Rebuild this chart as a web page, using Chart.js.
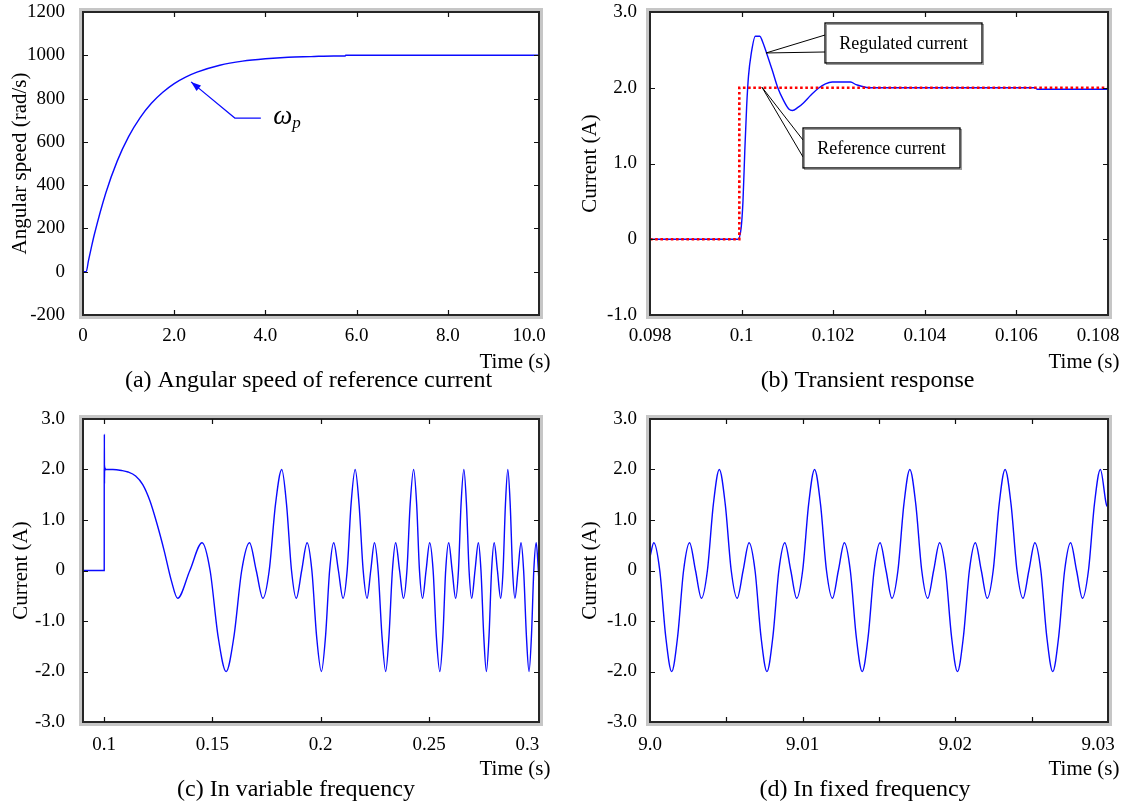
<!DOCTYPE html>
<html><head><meta charset="utf-8">
<script src="https://cdn.jsdelivr.net/npm/chart.js@4.4.0/dist/chart.umd.min.js"></script>
<style>
html,body{margin:0;padding:0;background:#fff;}
#wrap{position:relative;width:1130px;height:805px;overflow:hidden;}
.cell{position:absolute;}
canvas{display:block;}
</style></head><body>
<div id="wrap">
<div class="cell" style="left:0;top:0"><canvas id="ca" width="565" height="400"></canvas></div>
<div class="cell" style="left:565px;top:0"><canvas id="cb" width="565" height="400"></canvas></div>
<div class="cell" style="left:0;top:400px"><canvas id="cc" width="565" height="405"></canvas></div>
<div class="cell" style="left:565px;top:400px"><canvas id="cd" width="565" height="405"></canvas></div>
</div>
<script>
// ---------------- data ----------------
// (a) angular speed of reference current
const timeA  = [0, 0.07, 0.12, 0.18, 0.25, 0.5, 0.75, 1.0, 1.25, 1.5, 1.75, 2.0, 2.25, 2.5, 3.0, 3.5, 4.0, 4.5, 5.0, 5.5, 5.75, 5.76, 7.0, 8.5, 10.0];
const speedA = [0, 0, 51, 109, 173, 364, 511, 624, 711, 778, 829, 869, 899, 922, 954, 973, 984, 991, 994, 997, 997, 1000, 1000, 1000, 1000];
const xTicksA = [0, 2, 4, 6, 8, 10];
const xLabelsA = ['0', '2.0', '4.0', '6.0', '8.0', '10.0'];
const yTicksA = [-200, 0, 200, 400, 600, 800, 1000, 1200];
const yLabelsA = ['-200', '0', '200', '400', '600', '800', '1000', '1200'];

// (b) transient response
const timeRefB = [0.098, 0.09995, 0.09995, 0.108];
const refB     = [0, 0, 2.0, 2.0];
const timeRegB = [0.098, 0.09992, 0.09999, 0.10003, 0.10007, 0.10011, 0.10015, 0.10021, 0.10030, 0.10040, 0.10045,
                  0.10055, 0.10067, 0.10079, 0.10091, 0.10103, 0.10111, 0.10123, 0.10135, 0.10151, 0.10167,
                  0.10183, 0.10198, 0.10238, 0.10250, 0.10262, 0.10278, 0.10640, 0.10646, 0.108];
const regB     = [0, 0, 0.15, 0.50, 1.17, 1.75, 2.15, 2.45, 2.68, 2.68, 2.62,
                  2.45, 2.23, 2.00, 1.84, 1.72, 1.70, 1.74, 1.80, 1.90, 1.99,
                  2.05, 2.075, 2.075, 2.04, 2.02, 2.0, 2.0, 1.98, 1.98];
const xTicksB = [0.098, 0.100, 0.102, 0.104, 0.106, 0.108];
const xLabelsB = ['0.098', '0.1', '0.102', '0.104', '0.106', '0.108'];
const yTicksB = [-1, 0, 1, 2, 3];
const yLabelsB = ['-1.0', '0', '1.0', '2.0', '3.0'];

// (c) variable frequency
const timeC = [0.0902, 0.1000, 0.10001, 0.10004, 0.10007, 0.10011, 0.10018, 0.10026, 0.10035, 0.1006,
  0.1040, 0.1080, 0.1110, 0.1145, 0.1178, 0.1211, 0.1244, 0.1277, 0.1310,
  0.1339, 0.13955, 0.1452, 0.1489, 0.1526, 0.1563, 0.1599, 0.1635, 0.1671, 0.1702, 0.1733, 0.1762, 0.1791, 0.1820, 0.1842, 0.1865,
  0.1887, 0.1912, 0.1937, 0.1959, 0.1981, 0.2003, 0.2022, 0.2041, 0.2060, 0.20815, 0.2103, 0.2122, 0.2140, 0.2159, 0.2177, 0.2196,
  0.2214, 0.2231, 0.2248, 0.2265, 0.2283, 0.2300, 0.2315, 0.2331, 0.2346, 0.2364, 0.2382, 0.2398, 0.2413, 0.2429, 0.2443, 0.2456,
  0.2470, 0.24865, 0.2503, 0.2519, 0.2534, 0.2550, 0.2564, 0.2577, 0.2591, 0.2607, 0.2623, 0.2636, 0.2648, 0.2661, 0.2673, 0.2685,
  0.2697, 0.27125, 0.2728, 0.2740, 0.2753, 0.2765, 0.2777, 0.2789, 0.2801, 0.2816, 0.2831, 0.2842, 0.2853, 0.2864, 0.2875, 0.2886,
  0.2897, 0.2911, 0.2925, 0.2937, 0.2950, 0.2962, 0.2973, 0.2984, 0.2995, 0.3005, 0.3012];
const currentC = [0, 0, 2.0, 1.75, 2.7, 1.72, 2.08, 1.97, 2.03, 2.0,
  2.0, 1.98, 1.95, 1.87, 1.70, 1.38, 0.92, 0.39, -0.20,
  -0.55, 0, 0.55, 0, -1.31, -2.0, -1.31, 0, 0.55, 0, -0.55, 0, 1.31, 2.0, 1.31, 0,
  -0.55, 0, 0.55, 0, -1.31, -2.0, -1.31, 0, 0.55, 0, -0.55, 0, 1.31, 2.0, 1.31, 0,
  -0.55, 0, 0.55, 0, -1.31, -2.0, -1.31, 0, 0.55, 0, -0.55, 0, 1.31, 2.0, 1.31, 0,
  -0.55, 0, 0.55, 0, -1.31, -2.0, -1.31, 0, 0.55, 0, -0.55, 0, 1.31, 2.0, 1.31, 0,
  -0.55, 0, 0.55, 0, -1.31, -2.0, -1.31, 0, 0.55, 0, -0.55, 0, 1.31, 2.0, 1.31, 0,
  -0.55, 0, 0.55, 0, -1.31, -2.0, -1.31, 0, 0.55, 0, -0.55];
const xTicksC = [0.10, 0.15, 0.20, 0.25, 0.30];
const xLabelsC = ['0.1', '0.15', '0.2', '0.25', '0.3'];
const yTicksCD = [-3, -2, -1, 0, 1, 2, 3];
const yLabelsCD = ['-3.0', '-2.0', '-1.0', '0', '1.0', '2.0', '3.0'];

// (d) fixed frequency
const timeD = [9.0,
  9.00025, 9.00064, 9.00103, 9.00142, 9.00181, 9.00220, 9.00259, 9.00298, 9.00337, 9.00376, 9.00415, 9.00454, 9.00493, 9.00532, 9.00571, 9.00610,
  9.00649, 9.00688, 9.00727, 9.00766, 9.00805, 9.00844, 9.00883, 9.00922, 9.00961, 9.01000, 9.01039, 9.01078, 9.01117, 9.01156, 9.01195, 9.01234,
  9.01273, 9.01312, 9.01351, 9.01390, 9.01429, 9.01468, 9.01507, 9.01546, 9.01585, 9.01624, 9.01663, 9.01702, 9.01741, 9.01780, 9.01819, 9.01858,
  9.01897, 9.01936, 9.01975, 9.02014, 9.02053, 9.02092, 9.02131, 9.02170, 9.02209, 9.02248, 9.02287, 9.02326, 9.02365, 9.02404, 9.02443, 9.02482,
  9.02521, 9.02560, 9.02599, 9.02638, 9.02677, 9.02716, 9.02755, 9.02794, 9.02833, 9.02872, 9.02911, 9.02950, 9.02989,
  9.0300];
const currentD = [0.27,
  0.55, 0, -1.31, -2.0, -1.31, 0, 0.55, 0, -0.55, 0, 1.31, 2.0, 1.31, 0, -0.55, 0,
  0.55, 0, -1.31, -2.0, -1.31, 0, 0.55, 0, -0.55, 0, 1.31, 2.0, 1.31, 0, -0.55, 0,
  0.55, 0, -1.31, -2.0, -1.31, 0, 0.55, 0, -0.55, 0, 1.31, 2.0, 1.31, 0, -0.55, 0,
  0.55, 0, -1.31, -2.0, -1.31, 0, 0.55, 0, -0.55, 0, 1.31, 2.0, 1.31, 0, -0.55, 0,
  0.55, 0, -1.31, -2.0, -1.31, 0, 0.55, 0, -0.55, 0, 1.31, 2.0, 1.31,
  1.25];
const xTicksD = [9.0, 9.005, 9.01, 9.015, 9.02, 9.025, 9.03];
const xLabelsD = ['9.0', '', '9.01', '', '9.02', '', '9.03'];

// ---------------- annotations (data coordinates) ----------------
const omegaNote = {tip: [2.37, 877], elbow: [3.33, 710], end: [3.90, 710], label: [4.17, 710]};
const calloutsB = [
  {text: 'Regulated current', box: [0.101821, 2.855, 0.105249, 2.327],
   from: [[0.101821, 2.696], [0.101821, 2.472]], to: [0.100533, 2.459]},
  {text: 'Reference current', box: [0.101341, 1.469, 0.104769, 0.941],
   from: [[0.101341, 1.310], [0.101341, 1.086]], to: [0.100445, 2.007]}
];

// ---------------- styling / helpers ----------------
const FONT = '"Liberation Serif", "Times New Roman", Times, serif';
const BLUE = '#0a0aff';
const RED = '#ff0000';
Chart.defaults.font.family = FONT;
Chart.defaults.color = '#000';

function pairs(xs, ys) { return xs.map((x, i) => ({x: x, y: ys[i]})); }

const framePlugin = {
  id: 'frame',
  afterDatasetsDraw(chart) {
    const ctx = chart.ctx, a = chart.chartArea;
    const xs = chart.scales.x, ys = chart.scales.y;
    ctx.save();
    ctx.strokeStyle = '#c6c6c6'; ctx.lineWidth = 3;
    ctx.strokeRect(a.left - 2.5, a.top - 2.5, a.right - a.left + 5, a.bottom - a.top + 5);
    ctx.strokeStyle = '#262626'; ctx.lineWidth = 2;
    ctx.strokeRect(a.left, a.top, a.right - a.left, a.bottom - a.top);
    ctx.lineWidth = 1.2; ctx.strokeStyle = '#111';
    const L = 5;
    ctx.beginPath();
    xs.ticks.forEach(t => {
      const p = Math.round(xs.getPixelForValue(t.value)) + 0.5;
      if (p <= a.left + 2 || p >= a.right - 2) return;
      ctx.moveTo(p, a.bottom); ctx.lineTo(p, a.bottom - L);
      ctx.moveTo(p, a.top); ctx.lineTo(p, a.top + L);
    });
    ys.ticks.forEach(t => {
      const p = Math.round(ys.getPixelForValue(t.value)) + 0.5;
      if (p <= a.top + 2 || p >= a.bottom - 2) return;
      ctx.moveTo(a.left, p); ctx.lineTo(a.left + L, p);
      ctx.moveTo(a.right, p); ctx.lineTo(a.right - L, p);
    });
    ctx.stroke();
    ctx.restore();
  }
};

// small placement adjustments: caption offset, "Time (s)" hanging past the frame, last x label kept inside
function nudgePlugin(captionShift) {
  return {
    id: 'nudge',
    afterLayout(chart) {
      const tb = chart.titleBlock;
      if (tb) { tb.left += captionShift; tb.right += captionShift; }
      chart.scales.x.right += 11.5;
    },
    beforeDraw(chart) {
      const xs = chart.scales.x;
      if (typeof xs.getLabelItems !== 'function') return;
      const items = xs.getLabelItems(chart.chartArea);
      const last = items[items.length - 1];
      if (last && last.options && last.options.translation) {
        const tr = last.options.translation;
        last.options.translation = [tr[0] - 10, tr[1]];
      }
    }
  };
}

const arrowPluginA = {
  id: 'arrowA',
  afterDatasetsDraw(chart) {
    const ctx = chart.ctx, xs = chart.scales.x, ys = chart.scales.y;
    const P = p => [xs.getPixelForValue(p[0]), ys.getPixelForValue(p[1])];
    const tip = P(omegaNote.tip), el = P(omegaNote.elbow), en = P(omegaNote.end), lb = P(omegaNote.label);
    ctx.save();
    ctx.strokeStyle = BLUE; ctx.fillStyle = BLUE; ctx.lineWidth = 1.2;
    ctx.beginPath(); ctx.moveTo(en[0], en[1]); ctx.lineTo(el[0], el[1]); ctx.lineTo(tip[0], tip[1]); ctx.stroke();
    const ang = Math.atan2(tip[1] - el[1], tip[0] - el[0]);
    const hl = 10, hw = 3.5;
    ctx.beginPath(); ctx.moveTo(tip[0], tip[1]);
    ctx.lineTo(tip[0] - hl * Math.cos(ang) + hw * Math.sin(ang), tip[1] - hl * Math.sin(ang) - hw * Math.cos(ang));
    ctx.lineTo(tip[0] - hl * Math.cos(ang) - hw * Math.sin(ang), tip[1] - hl * Math.sin(ang) + hw * Math.cos(ang));
    ctx.closePath(); ctx.fill();
    ctx.fillStyle = '#000'; ctx.textBaseline = 'alphabetic'; ctx.textAlign = 'left';
    ctx.font = 'italic 27px ' + FONT;
    ctx.fillText('ω', lb[0], lb[1] + 6);
    const w = ctx.measureText('ω').width;
    ctx.font = 'italic 17px ' + FONT;
    ctx.fillText('p', lb[0] + w, lb[1] + 10);
    ctx.restore();
  }
};

const calloutPluginB = {
  id: 'calloutB',
  afterDatasetsDraw(chart) {
    const ctx = chart.ctx, xs = chart.scales.x, ys = chart.scales.y;
    const P = p => [xs.getPixelForValue(p[0]), ys.getPixelForValue(p[1])];
    ctx.save();
    calloutsB.forEach(c => {
      const to = P(c.to);
      ctx.strokeStyle = '#000'; ctx.lineWidth = 1;
      c.from.forEach(f => {
        const q = P(f);
        ctx.beginPath(); ctx.moveTo(q[0], q[1]); ctx.lineTo(to[0], to[1]); ctx.stroke();
      });
      const p1 = P([c.box[0], c.box[1]]), p2 = P([c.box[2], c.box[3]]);
      ctx.fillStyle = '#fff';
      ctx.fillRect(p1[0], p1[1], p2[0] - p1[0], p2[1] - p1[1]);
      ctx.strokeStyle = '#9a9a9a'; ctx.lineWidth = 1;
      ctx.strokeRect(p1[0] + 1.5, p1[1] + 1.5, p2[0] - p1[0], p2[1] - p1[1]);
      ctx.strokeStyle = '#000'; ctx.lineWidth = 1.3;
      ctx.strokeRect(p1[0], p1[1], p2[0] - p1[0], p2[1] - p1[1]);
      ctx.fillStyle = '#000'; ctx.font = '18px ' + FONT;
      ctx.textAlign = 'center'; ctx.textBaseline = 'middle';
      ctx.fillText(c.text, (p1[0] + p2[0]) / 2, (p1[1] + p2[1]) / 2 + 1);
    });
    ctx.restore();
  }
};

function makeOptions(o) {
  return {
    responsive: false,
    animation: false,
    events: [],
    layout: {padding: {left: 0, top: o.padTop, right: o.padRight, bottom: 0}},
    elements: {point: {radius: 0}},
    plugins: {
      legend: {display: false},
      tooltip: {enabled: false},
      title: {display: true, position: 'bottom', fullSize: false, text: o.caption,
              font: {family: FONT, size: 24, weight: 'normal', lineHeight: 1.0},
              color: '#000', padding: {top: 0, bottom: o.capPad}}
    },
    scales: {
      x: {
        type: 'linear', min: o.xMin, max: o.xMax,
        afterBuildTicks: s => { s.ticks = o.xTicks.map(v => ({value: v})); },
        afterFit: s => { s.height = o.xHeight; s.paddingLeft = 0; s.paddingRight = 0; },
        ticks: {callback: (v, i) => o.xLabels[i], font: {family: FONT, size: 19, lineHeight: 1.2},
                color: '#000', padding: o.xTickPad, maxRotation: 0, minRotation: 0, autoSkip: false},
        grid: {display: false}, border: {display: false},
        title: {display: true, text: 'Time (s)', align: 'end', color: '#000',
                font: {family: FONT, size: 21, lineHeight: 1.2}, padding: {top: 0, bottom: o.timePad}}
      },
      y: {
        type: 'linear', min: o.yMin, max: o.yMax,
        afterBuildTicks: s => { s.ticks = o.yTicks.map(v => ({value: v})); },
        afterFit: s => { s.width = o.yWidth; s.paddingTop = 0; s.paddingBottom = 0; },
        ticks: {callback: (v, i) => o.yLabels[i], font: {family: FONT, size: 19, lineHeight: 1.2},
                color: '#000', padding: o.yTickPad, autoSkip: false},
        grid: {display: false}, border: {display: false},
        title: {display: true, text: o.yTitle, color: '#000',
                font: {family: FONT, size: 21, lineHeight: 1.2}, padding: {top: o.yTitlePad, bottom: 0}}
      }
    }
  };
}

function blueLine(xs, ys) {
  return {data: pairs(xs, ys), borderColor: BLUE, borderWidth: 1.4, pointRadius: 0,
          cubicInterpolationMode: 'monotone', fill: false};
}

// (a)
new Chart(document.getElementById('ca'), {
  type: 'line',
  data: {datasets: [blueLine(timeA, speedA)]},
  options: makeOptions({padTop: 12, padRight: 26, caption: '(a) Angular speed of reference current', capPad: 7,
    xMin: 0, xMax: 10, xTicks: xTicksA, xLabels: xLabelsA, xHeight: 54, xTickPad: 2, timePad: -5.6,
    yMin: -200, yMax: 1200, yTicks: yTicksA, yLabels: yLabelsA, yWidth: 83, yTickPad: 10,
    yTitle: 'Angular speed (rad/s)', yTitlePad: 8}),
  plugins: [framePlugin, arrowPluginA, nudgePlugin(-2.5)]
});

// (b)
new Chart(document.getElementById('cb'), {
  type: 'line',
  data: {datasets: [
    {data: pairs(timeRefB, refB), borderColor: RED, borderWidth: 2.6, borderDash: [2.6, 2.6], pointRadius: 0, tension: 0, fill: false},
    blueLine(timeRegB, regB)
  ]},
  options: makeOptions({padTop: 12, padRight: 22, caption: '(b) Transient response', capPad: 7,
    xMin: 0.098, xMax: 0.108, xTicks: xTicksB, xLabels: xLabelsB, xHeight: 54, xTickPad: 2, timePad: -5.6,
    yMin: -1, yMax: 3, yTicks: yTicksB, yLabels: yLabelsB, yWidth: 85, yTickPad: 5,
    yTitle: 'Current (A)', yTitlePad: 13}),
  plugins: [framePlugin, calloutPluginB, nudgePlugin(-11.5)]
});

// (c)
new Chart(document.getElementById('cc'), {
  type: 'line',
  data: {datasets: [blueLine(timeC, currentC)]},
  options: makeOptions({padTop: 19, padRight: 26, caption: '(c) In variable frequency', capPad: 3,
    xMin: 0.0902, xMax: 0.3008, xTicks: xTicksC, xLabels: xLabelsC, xHeight: 56, xTickPad: 4, timePad: -3.6,
    yMin: -3, yMax: 3, yTicks: yTicksCD, yLabels: yLabelsCD, yWidth: 83, yTickPad: 10,
    yTitle: 'Current (A)', yTitlePad: 9}),
  plugins: [framePlugin, nudgePlugin(-15)]
});

// (d)
new Chart(document.getElementById('cd'), {
  type: 'line',
  data: {datasets: [blueLine(timeD, currentD)]},
  options: makeOptions({padTop: 19, padRight: 22, caption: '(d) In fixed frequency', capPad: 3,
    xMin: 9.0, xMax: 9.03, xTicks: xTicksD, xLabels: xLabelsD, xHeight: 56, xTickPad: 4, timePad: -3.6,
    yMin: -3, yMax: 3, yTicks: yTicksCD, yLabels: yLabelsCD, yWidth: 85, yTickPad: 5,
    yTitle: 'Current (A)', yTitlePad: 13}),
  plugins: [framePlugin, nudgePlugin(-14)]
});
</script>
</body></html>
